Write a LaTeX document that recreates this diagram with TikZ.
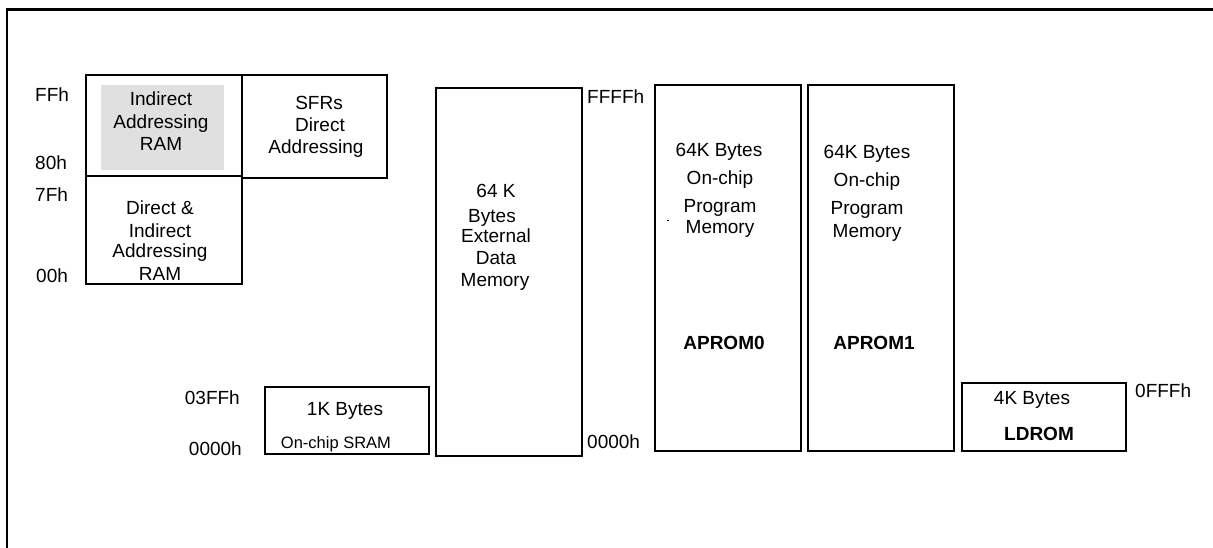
\documentclass[tikz,border=0pt]{standalone}
\usepackage{fontspec}
\setmainfont{Liberation Sans}
\definecolor{lightfill}{RGB}{224,224,224}
\begin{document}
\begin{tikzpicture}[x=1pt,y=-1pt,
  box/.style={draw=black,line width=2pt,inner sep=0pt,outer sep=0pt},
  txt/.style={inner sep=0pt,anchor=base,font=\fontsize{19}{22}\selectfont},
  btxt/.style={txt,font=\fontsize{19}{22}\selectfont\bfseries},
  stxt/.style={txt,font=\fontsize{16.5}{20}\selectfont},
  ltxt/.style={txt,anchor=base west},
  rtxt/.style={txt,anchor=base east}]
\useasboundingbox (0,0) rectangle (1213,548);
% frame (only top and left edges visible)
\draw[line width=2.5pt] (7,548) -- (7,9.7) -- (1213,9.7);
% boxes
\node[box,minimum width=156pt,minimum height=101pt] (ramhi) at (164,125.5) {};
\node[draw=none,fill=lightfill,minimum width=123pt,minimum height=85pt,inner sep=0pt] (gray) at (162.5,127.5) {};
\node[box,minimum width=156pt,minimum height=108pt] (ramlo) at (164,230) {};
\node[box,minimum width=145pt,minimum height=103pt] (sfr) at (314.5,126.5) {};
\node[box,minimum width=164pt,minimum height=67pt] (sram) at (347,420.5) {};
\node[box,minimum width=146pt,minimum height=368pt] (ext) at (509,272) {};
\node[box,minimum width=146pt,minimum height=366pt] (ap0) at (728,268) {};
\node[box,minimum width=146pt,minimum height=366pt] (ap1) at (881,268) {};
\node[box,minimum width=164pt,minimum height=68pt] (ld) at (1044,417) {};
\draw[line width=2.6pt] (sfr.north west) -- (sfr.south west);
% left address labels
\node[ltxt] (lFF) at (35,102) {FFh};
\node[ltxt] (l80) at (35,170) {80h};
\node[ltxt] (l7F) at (35,202) {7Fh};
\node[ltxt] (l00) at (36,282) {00h};
% indirect RAM
\node[txt] (t1a) at (161,106) {Indirect};
\node[txt] (t1b) at (161,128.5) {Addressing};
\node[txt] (t1c) at (161,151) {RAM};
% SFR
\node[txt] (t2a) at (319,110) {SFRs};
\node[txt] (t2b) at (320,132) {Direct};
\node[txt] (t2c) at (316,154) {Addressing};
% direct & indirect
\node[txt] (t3a) at (160,215) {Direct \&};
\node[txt] (t3b) at (160,237) {Indirect};
\node[txt] (t3c) at (160,258) {Addressing};
\node[txt] (t3d) at (160,280) {RAM};
% SRAM
\node[rtxt] (l3FF) at (240,404) {03FFh};
\node[rtxt] (l0000a) at (242,455) {0000h};
\node[txt] (t4a) at (345,415) {1K Bytes};
\node[stxt] (t4b) at (336,448) {On-chip SRAM};
% external
\node[txt] (t5a) at (496,198) {64 K};
\node[txt] (t5b) at (492,223) {Bytes};
\node[txt] (t5c) at (496,243) {External};
\node[txt] (t5d) at (496,265) {Data};
\node[txt] (t5e) at (495,287) {Memory};
\node[ltxt] (lFFFF) at (587,104) {FFFFh};
\node[ltxt] (l0000b) at (587,448) {0000h};
% APROM0
\node[txt] (t6a) at (719,157) {64K Bytes};
\node[txt] (t6b) at (720,185) {On-chip};
\node[txt] (t6c) at (720,213) {Program};
\node[txt] (t6d) at (720,234) {Memory};
\node[btxt] (t6e) at (724,349) {APROM0};
\draw[line width=1pt] (667,221) -- (669,221);
% APROM1
\node[txt] (t7a) at (867,159) {64K Bytes};
\node[txt] (t7b) at (867,187) {On-chip};
\node[txt] (t7c) at (867,215) {Program};
\node[txt] (t7d) at (867,237) {Memory};
\node[btxt] (t7e) at (874,349) {APROM1};
% LDROM
\node[txt] (t8a) at (1032,404) {4K Bytes};
\node[btxt] (t8b) at (1039,440) {LDROM};
\node[ltxt] (l0FFF) at (1135,397) {0FFFh};
\end{tikzpicture}
\end{document}
